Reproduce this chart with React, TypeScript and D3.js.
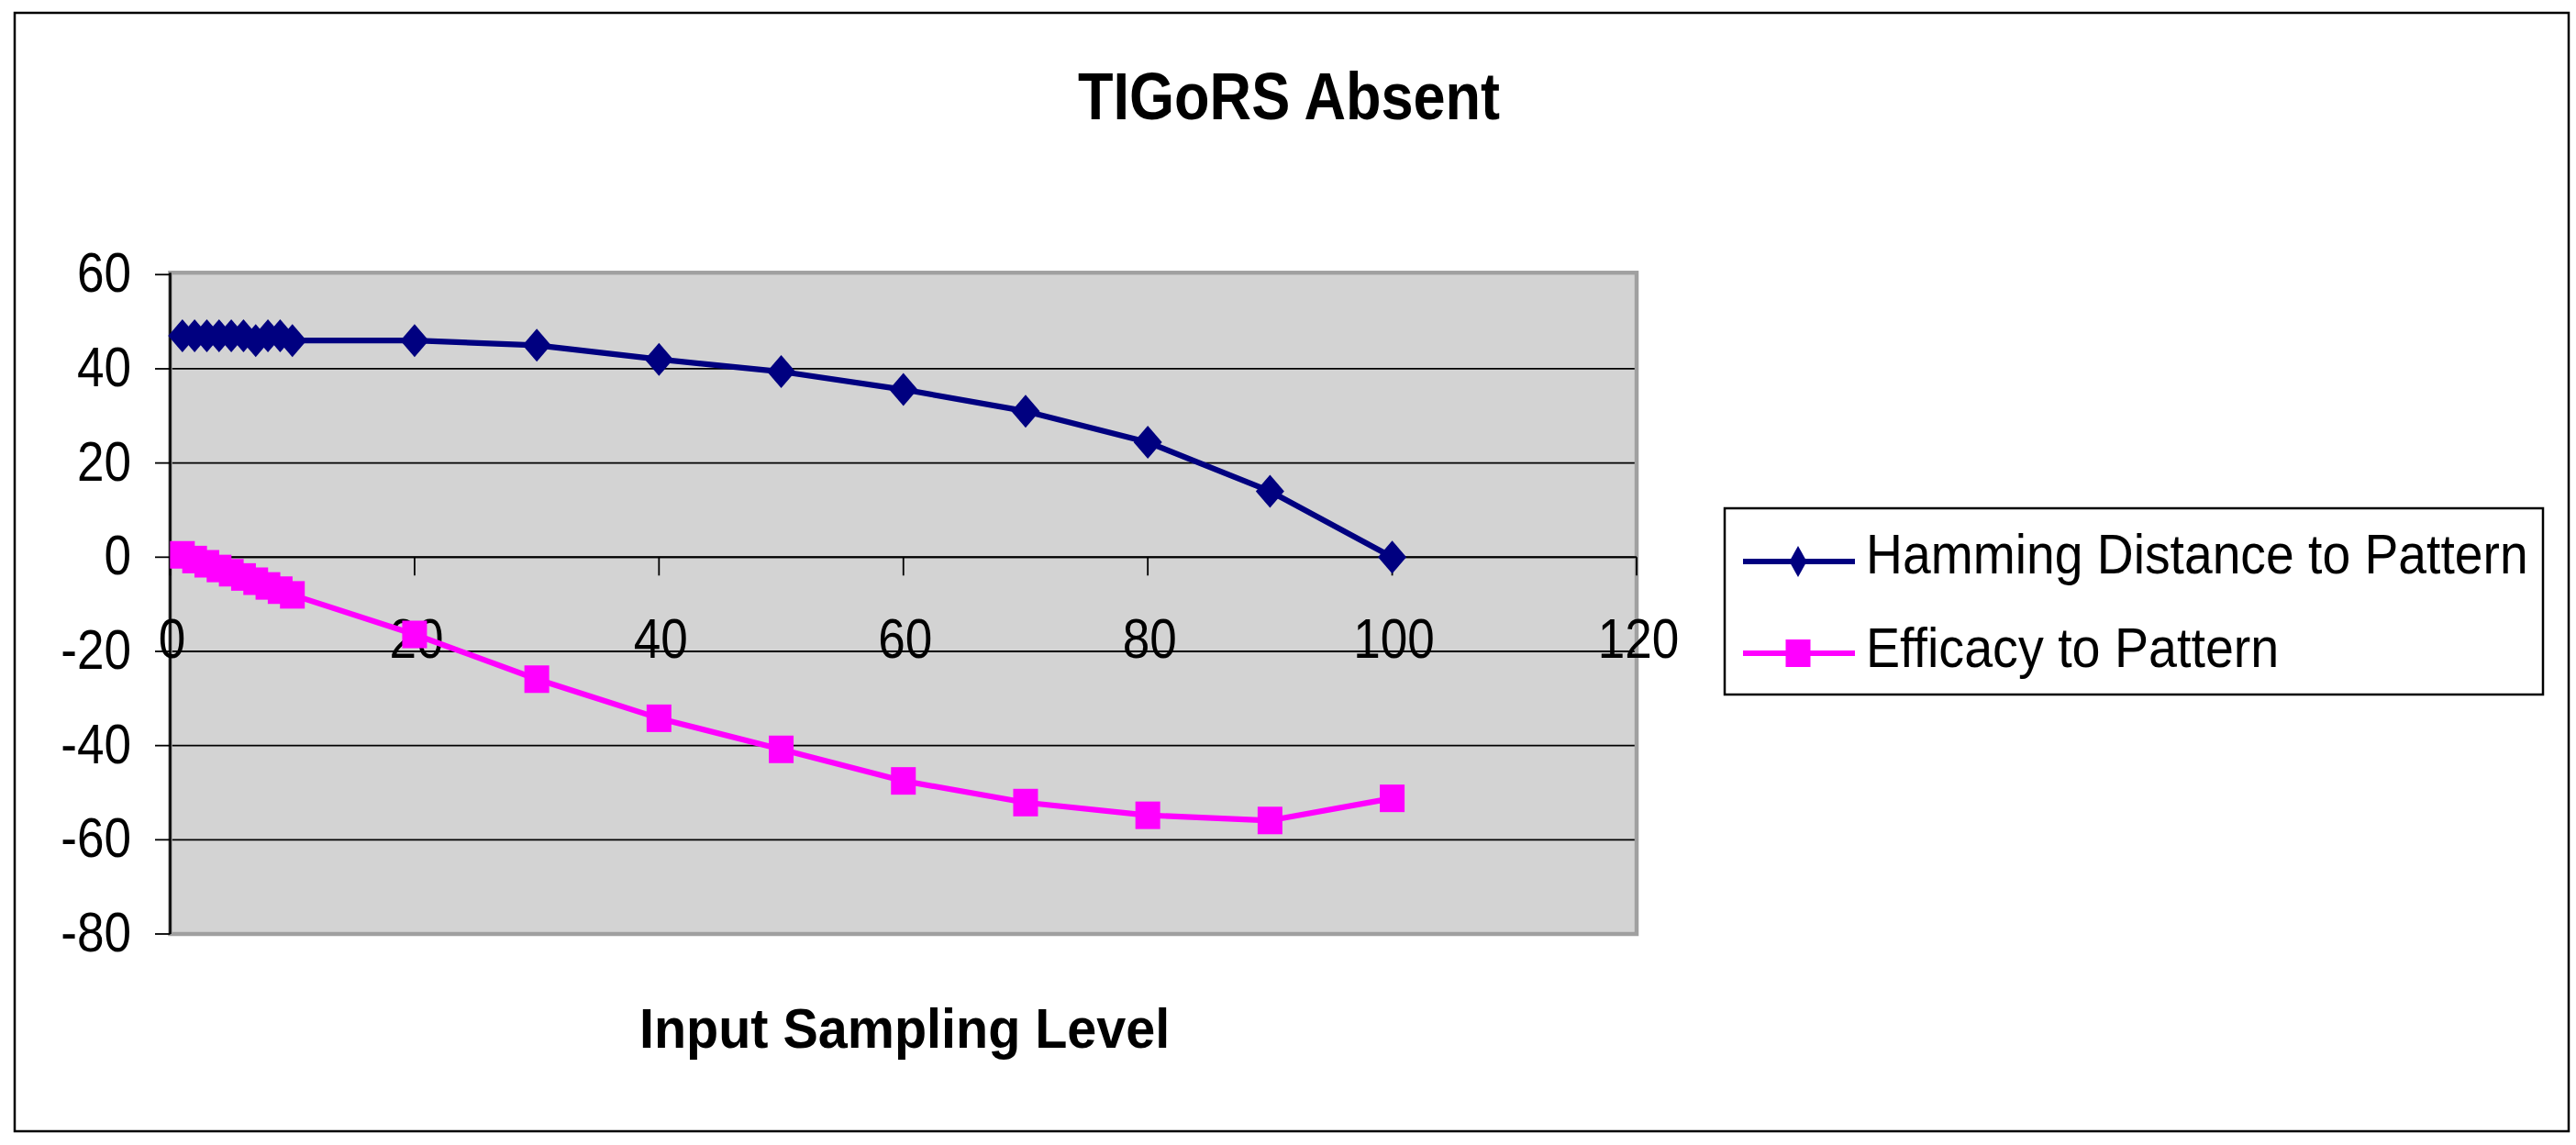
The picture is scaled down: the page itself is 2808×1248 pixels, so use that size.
import React from "react";
import * as d3 from "d3";

const title = "TIGoRS Absent";
const xTitle = "Input Sampling Level";
const seriesNames = ["Hamming Distance to Pattern", "Efficacy to Pattern"];
const xValues = [1, 2, 3, 4, 5, 6, 7, 8, 9, 10, 20, 30, 40, 50, 60, 70, 80, 90, 100];
const hamming = [47, 47, 47, 47, 47, 47, 46, 47, 47, 46, 46, 45, 42, 39.4, 35.6, 31, 24.4, 14, 0];
const efficacy = [0.5, -0.5, -1.4, -2.4, -3.3, -4.2, -5.1, -6.1, -7.0, -8.0, -16.4, -25.9, -34.2, -40.8, -47.5, -52.1, -54.8, -55.9, -51.2];
const xTicks = [0, 20, 40, 60, 80, 100, 120];
const yTicks = [60, 40, 20, 0, -20, -40, -60, -80];

const W = 2808;
const H = 1248;
const FONT = "'Liberation Sans', Arial, Helvetica, sans-serif";
const NAVY = "#000080";
const PINK = "#FF00FF";

const x = d3.scaleLinear().domain([0, 120]).range([185.5, 1784]);
const y = d3.scaleLinear().domain([-80, 60]).range([1018, 299.3]);

const diamond = (cx: number, cy: number, hw: number, hh: number) =>
  `M${cx},${cy - hh}L${cx + hw},${cy}L${cx},${cy + hh}L${cx - hw},${cy}Z`;

const SText = ({ x: tx, y: ty, anchor, sx, size, weight, children }: any) => (
  <text
    transform={`translate(${tx},${ty}) scale(${sx},1)`}
    textAnchor={anchor || "start"}
    fontSize={size}
    fontWeight={weight || "normal"}
    fontFamily={FONT}
    fill="#000"
  >
    {children}
  </text>
);

export default function App() {
  const line = d3
    .line<number>()
    .x((_, i) => x(xValues[i]))
    .y((d) => y(d));

  const [x0, x1] = x.range();
  const [yb, yt] = y.range();

  return (
    <div style={{ position: "absolute", left: 0, top: 0, background: "#fff" }}>
      <svg width={W} height={H} viewBox={`0 0 ${W} ${H}`} style={{ display: "block" }}>
        <rect x={0} y={0} width={W} height={H} fill="#fff" />
        {/* outer chart border */}
        <rect x={16} y={14} width={2784} height={1219} fill="none" stroke="#000" strokeWidth={2.5} />

        {/* title */}
        <SText x={1175} y={130} sx={0.864} size={73} weight="bold">
          {title}
        </SText>

        {/* plot area */}
        <rect x={x0} y={yt} width={x1 - x0} height={yb - yt} fill="#D3D3D3" />
        {yTicks
          .filter((t) => t !== 60 && t !== -80)
          .map((t) => (
            <line key={"g" + t} x1={x0} x2={x1} y1={y(t)} y2={y(t)} stroke="#000" strokeWidth={1.8} />
          ))}
        <rect
          x={x0}
          y={yt - 2}
          width={x1 - x0}
          height={yb - yt + 2}
          fill="none"
          stroke="#A0A0A0"
          strokeWidth={4.5}
        />
        {/* y axis */}
        <line x1={x0} x2={x0} y1={yt - 2} y2={yb} stroke="#000" strokeWidth={2.5} />
        {yTicks.map((t) => (
          <g key={"y" + t}>
            <line x1={169} x2={x0} y1={y(t)} y2={y(t)} stroke="#000" strokeWidth={1.8} />
            <SText x={143} y={y(t) + 19} anchor="end" sx={0.87} size={61}>
              {t}
            </SText>
          </g>
        ))}
        {/* x axis at y=0 */}
        <line x1={x0} x2={x1} y1={y(0)} y2={y(0)} stroke="#000" strokeWidth={2} />
        {xTicks.map((t) => (
          <g key={"x" + t}>
            <line x1={x(t)} x2={x(t)} y1={y(0)} y2={y(0) + 20} stroke="#000" strokeWidth={1.8} />
            <SText x={x(t) + 2} y={717} anchor="middle" sx={0.87} size={61}>
              {t}
            </SText>
          </g>
        ))}

        {/* series */}
        <path d={line(hamming) || ""} fill="none" stroke={NAVY} strokeWidth={6.2} strokeLinejoin="round" />
        {hamming.map((v, i) => (
          <path key={"h" + i} d={diamond(x(xValues[i]), y(v), 15.5, 18)} fill={NAVY} />
        ))}
        <path d={line(efficacy) || ""} fill="none" stroke={PINK} strokeWidth={6.2} strokeLinejoin="round" />
        {efficacy.map((v, i) => (
          <rect key={"e" + i} x={x(xValues[i]) - 13.5} y={y(v) - 15} width={27} height={30} fill={PINK} />
        ))}

        {/* x axis title */}
        <SText x={697} y={1142} sx={0.943} size={61} weight="bold">
          {xTitle}
        </SText>

        {/* legend */}
        <rect x={1880} y={554} width={892} height={203} fill="#fff" stroke="#000" strokeWidth={2.5} />
        <line x1={1900} x2={2022} y1={612} y2={612} stroke={NAVY} strokeWidth={6.2} />
        <path d={diamond(1960, 612, 9.5, 17)} fill={NAVY} />
        <SText x={2034} y={625} sx={0.906} size={61}>
          {seriesNames[0]}
        </SText>
        <line x1={1900} x2={2022} y1={712} y2={712} stroke={PINK} strokeWidth={6.2} />
        <rect x={1946.5} y={697} width={27} height={30} fill={PINK} />
        <SText x={2034} y={727} sx={0.912} size={61}>
          {seriesNames[1]}
        </SText>
      </svg>
    </div>
  );
}
